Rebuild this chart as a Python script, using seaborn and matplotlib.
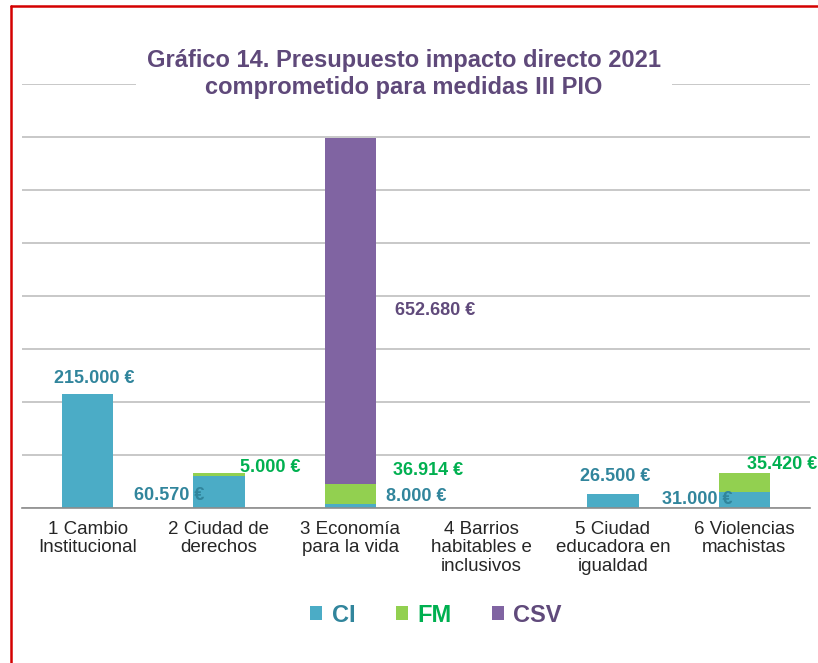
import numpy as np
import pandas as pd
import matplotlib
matplotlib.use("Agg")
import matplotlib.pyplot as plt
from matplotlib.patches import Patch
from matplotlib.lines import Line2D
import seaborn as sns

# Budget by strategic line (euros)
categories = [
    "1 Cambio\nInstitucional",
    "2 Ciudad de\nderechos",
    "3 Economía\npara la vida",
    "4 Barrios\nhabitables e\ninclusivos",
    "5 Ciudad\neducadora en\nigualdad",
    "6 Violencias\nmachistas",
]
ci = [215000, 60570, 8000, 0, 26500, 31000]
fm = [0, 5000, 36914, 0, 0, 35420]
csv = [0, 0, 652680, 0, 0, 0]
series_names = ["CI", "FM", "CSV"]

title = "Gráfico 14. Presupuesto impacto directo 2021\ncomprometido para medidas III PIO"

bar_colors = {"CI": "#4BACC6", "FM": "#92D050", "CSV": "#8064A2"}
text_colors = {"CI": "#31859C", "FM": "#00B050", "CSV": "#604A7B"}

sns.set_style("white")
plt.rcParams["font.family"] = ["Liberation Sans", "DejaVu Sans"]

fig = plt.figure(figsize=(8.18, 6.63), dpi=100)
ax = fig.add_axes([22 / 818, 155 / 663, 788 / 818, 424 / 663])

df = pd.DataFrame({"cat": categories, "CI": ci, "FM": fm, "CSV": csv})
bottom = np.zeros(len(categories))
for name in series_names:
    vals = df[name].to_numpy(dtype=float)
    sns.barplot(data=df, x="cat", y=name, color=bar_colors[name], width=0.39,
                bottom=bottom.copy(), linewidth=0, saturation=1, ax=ax, zorder=3)
    bottom = bottom + vals

ax.set_ylim(0, 800000)
ax.set_xlim(-0.5, len(categories) - 0.5)
ax.set_yticks(np.arange(0, 800001, 100000))
ax.set_yticklabels([])
ax.tick_params(axis="y", length=0)
ax.yaxis.grid(True, color="#BFBFBF", linewidth=1.2, zorder=0)
ax.xaxis.grid(False)
ax.set_axisbelow(True)
ax.set_xlabel("")
ax.set_ylabel("")
for s in ["left", "right", "top"]:
    ax.spines[s].set_visible(False)
ax.spines["bottom"].set_color("#8C8C8C")
ax.spines["bottom"].set_linewidth(1.2)
ax.spines["bottom"].set_zorder(4)

ax.set_xticks(range(len(categories)))
ax.set_xticklabels(categories, fontsize=13.5, color="#262626", linespacing=1.12)
ax.tick_params(axis="x", which="major", length=0, pad=9)
ax.set_xticks(np.arange(-0.5, len(categories), 1.0), minor=True)
ax.tick_params(axis="x", which="minor", length=5, width=1.2, color="#8C8C8C", direction="out")

# Value labels: (series, category index, offset in pixels from segment top)
label_specs = [
    ("CI", 0, 7, 16),
    ("CI", 1, -50, -20),
    ("FM", 1, 51, 6),
    ("CSV", 2, 85, -172),
    ("FM", 2, 78, 14),
    ("CI", 2, 66, 7),
    ("CI", 4, 2, 17),
    ("CI", 5, -47, -8),
    ("FM", 5, 38, 8),
]
stack = {"CI": np.array(ci, float),
         "FM": np.array(ci, float) + np.array(fm, float),
         "CSV": np.array(ci, float) + np.array(fm, float) + np.array(csv, float)}
values = {"CI": ci, "FM": fm, "CSV": csv}
for name, i, dx, dy in label_specs:
    v = values[name][i]
    txt = f"{v:,}".replace(",", ".") + " €"
    ax.annotate(txt, xy=(i, stack[name][i]), xytext=(dx * 0.72, dy * 0.72),
                textcoords="offset points", ha="center", va="center",
                fontsize=13, fontweight="bold", color=text_colors[name], zorder=5)

fig.text(404 / 818, 1 - 74 / 663, title, ha="center", va="center", fontsize=17,
         fontweight="bold", color="#5F497A", linespacing=1.25,
         bbox=dict(boxstyle="square,pad=0.45", facecolor="white", edgecolor="none"))

handles = [Patch(facecolor=bar_colors[n], edgecolor="none") for n in series_names]
leg = fig.legend(handles, series_names, loc="center", bbox_to_anchor=(436 / 818, 1 - 615 / 663),
                 ncol=3, frameon=False, prop={"size": 17, "weight": "bold"},
                 handlelength=0.52, handleheight=0.52, handletextpad=0.4, columnspacing=1.7)
for t, n in zip(leg.get_texts(), series_names):
    t.set_color(text_colors[n])

# Red frame on the left and top
fig.add_artist(Line2D([11 / 818, 11 / 818], [0, 1 - 6 / 663], transform=fig.transFigure,
                      color="#D40000", linewidth=1.8))
fig.add_artist(Line2D([11 / 818, 1], [1 - 6 / 663, 1 - 6 / 663], transform=fig.transFigure,
                      color="#D40000", linewidth=1.8))

fig.savefig("out.png", dpi=100)
